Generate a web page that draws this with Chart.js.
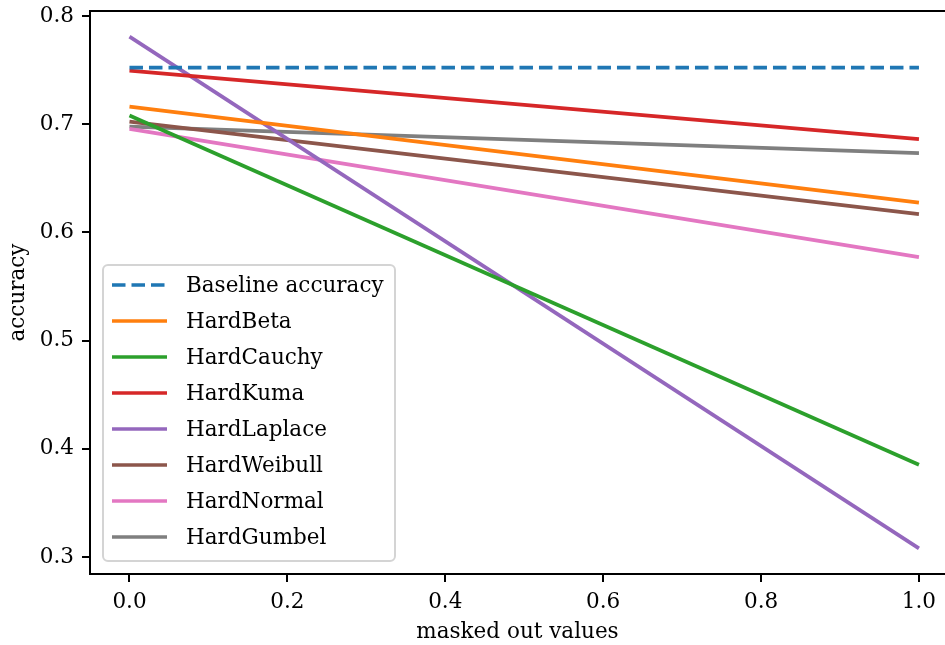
<!DOCTYPE html>
<html>
<head>
<meta charset="utf-8">
<script src="https://cdn.jsdelivr.net/npm/chart.js@4.4.0/dist/chart.umd.min.js"></script>
<style>
  html, body { margin: 0; padding: 0; background: #fff; }
  #wrap { width: 945px; height: 645px; position: relative; }
</style>
</head>
<body>
<div id="wrap"><canvas id="accChart"></canvas></div>
<script>
// x positions (masked out values)
const xValues = [0.0, 1.0];

const seriesNames = ["Baseline accuracy", "HardBeta", "HardCauchy", "HardKuma",
  "HardLaplace", "HardWeibull", "HardNormal", "HardGumbel"];

const baseline = [0.7523, 0.7523];
const hardBeta = [0.7163, 0.6276];
const hardCauchy = [0.708, 0.3854];
const hardKuma = [0.7495, 0.6862];
const hardLaplace = [0.7809, 0.3081];
const hardWeibull = [0.7024, 0.6169];
const hardNormal = [0.6957, 0.5772];
const hardGumbel = [0.6978, 0.6732];

const xTicks = [0.0, 0.2, 0.4, 0.6, 0.8, 1.0];
const yTicks = [0.3, 0.4, 0.5, 0.6, 0.7, 0.8];

const colors = ["#1f77b4", "#ff7f0e", "#2ca02c", "#d62728",
  "#9467bd", "#8c564b", "#e377c2", "#7f7f7f"];

const FONT = "'DejaVu Serif', 'Liberation Serif', serif";
const FSIZE = 21.5;
const LW = 3.7;

const allSeries = [baseline, hardBeta, hardCauchy, hardKuma,
  hardLaplace, hardWeibull, hardNormal, hardGumbel];

const datasets = allSeries.map((vals, i) => ({
  label: seriesNames[i],
  data: vals.map((v, j) => ({ x: xValues[j], y: v })),
  borderColor: colors[i],
  backgroundColor: colors[i],
  borderWidth: LW,
  borderDash: i === 0 ? [13.5, 6] : [],
  pointRadius: 0,
  fill: false,
  tension: 0,
}));

// frame around the plot area (matplotlib spines)
const framePlugin = {
  id: "frame",
  afterDatasetsDraw(chart) {
    const { ctx, chartArea: a } = chart;
    ctx.save();
    ctx.strokeStyle = "#000";
    ctx.lineWidth = 2;
    ctx.strokeRect(a.left, a.top, a.right - a.left + 5, a.bottom - a.top);
    ctx.restore();
  },
};

// legend box drawn inside the plot, lower left
const legendPlugin = {
  id: "innerLegend",
  afterDraw(chart) {
    const ctx = chart.ctx;
    const x0 = 103, y0 = 265, w = 292, h = 296, r = 5;
    ctx.save();
    ctx.beginPath();
    ctx.roundRect(x0, y0, w, h, r);
    ctx.fillStyle = "rgba(255,255,255,0.8)";
    ctx.fill();
    ctx.strokeStyle = "#d4d4d4";
    ctx.lineWidth = 2;
    ctx.stroke();

    ctx.font = FSIZE + "px " + FONT;
    ctx.textBaseline = "middle";
    ctx.fillStyle = "#000";
    chart.data.datasets.forEach((ds, i) => {
      const y = 285 + i * 36;
      ctx.beginPath();
      ctx.setLineDash(ds.borderDash);
      ctx.strokeStyle = ds.borderColor;
      ctx.lineWidth = LW;
      ctx.moveTo(112, y);
      ctx.lineTo(167, y);
      ctx.stroke();
      ctx.setLineDash([]);
      ctx.fillText(ds.label, 186, y + 1);
    });
    ctx.restore();
  },
};

const ctx = document.getElementById("accChart").getContext("2d");
const accChart = new Chart(ctx, {
  type: "line",
  data: { datasets: datasets },
  options: {
    responsive: true,
    maintainAspectRatio: false,
    animation: false,
    layout: { padding: { top: 11, right: 0, left: 0, bottom: 0 } },
    plugins: {
      legend: { display: false },
      tooltip: { enabled: false },
    },
    scales: {
      x: {
        type: "linear",
        min: -0.05,
        max: 1.033,
        afterBuildTicks: (scale) => {
          scale.ticks = xTicks.map((v) => ({ value: v }));
        },
        afterFit: (scale) => {
          scale.height = 71;
          scale.paddingLeft = 0;
          scale.paddingRight = 0;
        },
        ticks: {
          callback: (v) => v.toFixed(1),
          font: { family: FONT, size: FSIZE },
          color: "#000",
          padding: 8,
          maxRotation: 0,
        },
        grid: {
          drawOnChartArea: false,
          drawTicks: true,
          tickLength: 8,
          color: "#000",
          lineWidth: 2,
        },
        border: { display: true, color: "#000", width: 2 },
        title: {
          display: true,
          text: "masked out values",
          font: { family: FONT, size: FSIZE },
          color: "#000",
          padding: { top: 3, bottom: 0 },
        },
      },
      y: {
        type: "linear",
        min: 0.2844,
        max: 0.8046,
        afterBuildTicks: (scale) => {
          scale.ticks = yTicks.map((v) => ({ value: v }));
        },
        afterFit: (scale) => {
          scale.width = 90;
          scale.paddingTop = 0;
          scale.paddingBottom = 0;
        },
        ticks: {
          callback: (v) => v.toFixed(1),
          font: { family: FONT, size: FSIZE },
          color: "#000",
          padding: 8,
        },
        grid: {
          drawOnChartArea: false,
          drawTicks: true,
          tickLength: 8,
          color: "#000",
          lineWidth: 2,
        },
        border: { display: true, color: "#000", width: 2 },
        title: {
          display: true,
          text: "accuracy",
          font: { family: FONT, size: FSIZE },
          color: "#000",
          padding: { top: 6, bottom: 0 },
        },
      },
    },
  },
  plugins: [framePlugin, legendPlugin],
});
</script>
</body>
</html>
